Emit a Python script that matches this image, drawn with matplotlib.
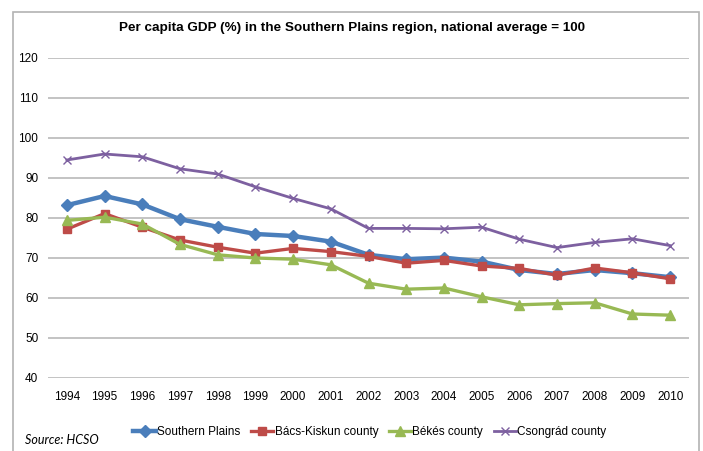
import matplotlib
matplotlib.use("Agg")
import matplotlib.pyplot as plt
from matplotlib.patches import Rectangle

years = [str(y) for y in range(1994, 2011)]

southern_plains = [83.2, 85.5, 83.4, 79.7, 77.8, 76.0, 75.5, 74.1, 70.8, 69.7, 70.1, 69.1, 67.0, 66.0, 67.0, 66.2, 65.2]
bacs_kiskun = [77.2, 81.1, 77.7, 74.5, 72.7, 71.2, 72.4, 71.6, 70.4, 68.7, 69.4, 68.0, 67.4, 65.7, 67.5, 66.3, 64.8]
bekes = [79.4, 80.2, 78.5, 73.4, 70.8, 70.0, 69.7, 68.3, 63.7, 62.2, 62.5, 60.3, 58.3, 58.6, 58.8, 56.0, 55.7]
csongrad = [94.5, 96.0, 95.3, 92.3, 91.0, 87.8, 84.9, 82.3, 77.4, 77.4, 77.3, 77.7, 74.7, 72.6, 73.9, 74.8, 73.1]

series_names = ["Southern Plains", "Bács-Kiskun county", "Békés county", "Csongrád county"]
y_ticks = [40, 50, 60, 70, 80, 90, 100, 110, 120]

plt.rcParams["font.family"] = ["Liberation Sans", "DejaVu Sans"]

fig = plt.figure(figsize=(7.03, 4.51), dpi=100)
ax = fig.add_axes([48 / 703, 1 - 378 / 451, 641 / 703, 320 / 451])

# outer chart frame
fig.patches.append(Rectangle((13 / 703, -0.01), 686 / 703, 1 - 12 / 451 + 0.01,
                             transform=fig.transFigure, fill=False,
                             edgecolor="#B3B3B3", linewidth=1.2))

x = list(range(len(years)))
styles = [
    (southern_plains, "#4A7EBB", "D", 3.2, 6.5, None),
    (bacs_kiskun, "#BE4B48", "s", 2.4, 6.0, None),
    (bekes, "#98B954", "^", 2.4, 6.5, None),
    (csongrad, "#7D60A0", "x", 2.0, 6.0, 1.0),
]
for (vals, col, mk, lw, ms, mew), name in zip(styles, series_names):
    kw = dict(color=col, marker=mk, linewidth=lw, markersize=ms, label=name,
              markerfacecolor=col, markeredgecolor=col, solid_joinstyle="round")
    if mew is not None:
        kw["markeredgewidth"] = mew
    ax.plot(x, vals, **kw)

ax.set_xlim(-0.5, len(years) - 0.5)
ax.set_ylim(40, 120)
ax.set_yticks(y_ticks)
ax.set_xticks(x)
ax.set_xticklabels(years)
ax.yaxis.grid(True, color="#BEBEBE", linewidth=1.3)
ax.set_axisbelow(True)
for s in ax.spines.values():
    s.set_visible(False)
ax.tick_params(axis="both", length=0, labelsize=8.5, colors="#000000")
ax.tick_params(axis="y", pad=7)
ax.tick_params(axis="x", pad=9)

fig.text(352 / 703, 1 - 28 / 451, "Per capita GDP (%) in the Southern Plains region, national average = 100",
         ha="center", va="center", fontsize=9.7, fontweight="bold")

fig.legend(loc="center", bbox_to_anchor=(370 / 703, 1 - 432 / 451), ncol=4, frameon=False,
           fontsize=8.5, handlelength=1.9, handletextpad=0.1, columnspacing=0.9, borderpad=0)

fig.text(25 / 703, 1 - 440 / 451, "Source: HCSO", ha="left", va="center", fontsize=9,
         style="italic", family=["Lato", "DejaVu Sans"])

fig.savefig("out.png", dpi=100)
